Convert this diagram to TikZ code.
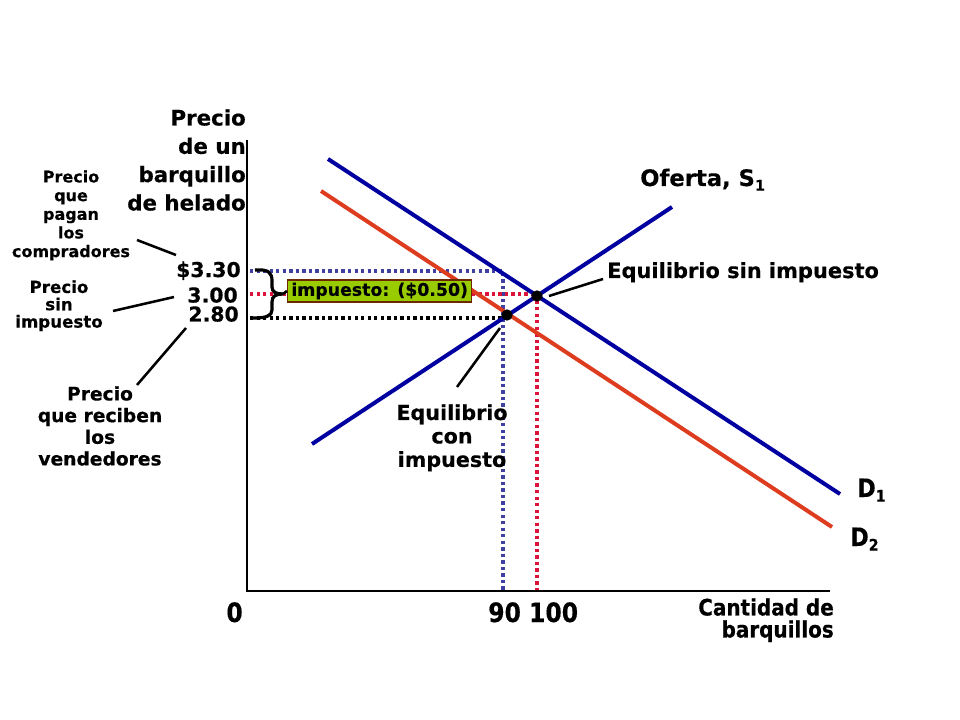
\documentclass[tikz,border=0pt]{standalone}
\usepackage{fontspec}
\setmainfont{DejaVu Sans}[BoldFeatures={FakeBold=0.4}]
\newfontfamily\condf{DejaVu Sans}[FakeStretch=0.88, BoldFeatures={FakeBold=0.4}]
\definecolor{navy}{RGB}{0,0,160}
\definecolor{redline}{RGB}{222,60,30}
\definecolor{bluedot}{RGB}{64,64,160}
\definecolor{reddot}{RGB}{220,20,60}
\definecolor{taxgreen}{RGB}{153,204,0}
\definecolor{taxborder}{RGB}{110,40,0}
\begin{document}
\begin{tikzpicture}[x=0.75pt,y=-0.75pt,
  lbl/.style={inner sep=0pt, text=black},
  curve/.style={line width=3pt},
  dotline/.style={line width=2.5pt, dash pattern=on 2.5pt off 2.4pt},
  leader/.style={line width=1.9pt, black},
  eqdot/.style={fill=black, circle, inner sep=0pt, minimum size=8.5pt}]
\useasboundingbox (0,0) rectangle (960,720);

% coordinates
\coordinate (yaxtop) at (247,140);
\coordinate (origin) at (247,591);
\coordinate (xaxend) at (830,591);
\coordinate (sA) at (312,444);
\coordinate (sB) at (672,207);
\coordinate (dA) at (328,159);
\coordinate (dB) at (840,494);
\coordinate (eA) at (321,191);
\coordinate (eB) at (832,527);

% dotted guide lines
\coordinate (b1) at (250,271); \coordinate (b2) at (503,271); \coordinate (b3) at (503,590);
\coordinate (r1) at (250,294); \coordinate (r2) at (537,294); \coordinate (r3) at (537,590);
\coordinate (k1) at (250,318); \coordinate (k2) at (506,318);
\draw[dotline, bluedot] (b1) -- (b2) -- (b3);
\draw[dotline, reddot] (r1) -- (r2);
\draw[dotline, reddot] (r2) -- (r3);
\draw[dotline, black] (k1) -- (k2);

% axes
\draw[line width=1.1pt] (yaxtop) -- (origin) -- (xaxend);

% curves
\draw[curve, redline] (eA) -- (eB);
\draw[curve, navy] (dA) -- (dB);
\draw[curve, navy] (sA) -- (sB);

% equilibrium dots
\node[eqdot] (eq1) at (537,296) {};
\node[eqdot] (eq2) at (507,315) {};

% brace
\coordinate (brtip) at (283,294);
\draw[line width=2.4pt, black] (255,270) .. controls (269,269) and (272,273) .. (272,281)
  -- (272,287) .. controls (272,292) and (276,294) .. (brtip)
  .. controls (276,294) and (272,296) .. (272,302)
  -- (272,310) .. controls (272,316) and (266,318) .. (253,318);

% tax box
\node[lbl, anchor=west, fill=taxgreen, draw=taxborder, line width=0.9pt,
  inner xsep=2.8pt, minimum height=16.5pt,
  font=\fontsize{13}{15}\selectfont\bfseries] (tax) at (287,291) {impuesto: (\$0.50)};
\draw[line width=2pt] (brtip) -- (tax.west);

% axis labels
\node[lbl, anchor=north east, align=right, font=\fontsize{16}{21.25}\selectfont\bfseries]
  (ylab) at (246,109) {Precio\\de un\\barquillo\\de helado};
\node[lbl, anchor=north east, align=right, font=\condf\fontsize{17}{16.5}\selectfont\bfseries]
  (xlab) at (834,598) {Cantidad de\\barquillos};

% price labels
\node[lbl, anchor=base east, font=\fontsize{15.3}{18}\selectfont\bfseries] (p330) at (241,277) {\$3.30};
\node[lbl, anchor=base east, font=\fontsize{15.3}{18}\selectfont\bfseries] (p300) at (238,302.5) {3.00};
\node[lbl, anchor=base east, font=\fontsize{15.3}{18}\selectfont\bfseries] (p280) at (239,321.5) {2.80};

% quantity labels
\node[lbl, anchor=base east, font=\condf\fontsize{20}{22}\selectfont\bfseries] (q0) at (243,622) {0};
\node[lbl, anchor=base west, font=\condf\fontsize{20}{22}\selectfont\bfseries] (q90) at (488,622) {90 100};

% curve labels
\node[lbl, anchor=base west, font=\fontsize{17}{19}\selectfont\bfseries] (oferta) at (640,186)
  {Oferta, S\raisebox{-3.5pt}{\fontsize{11}{11}\selectfont 1}};
\node[lbl, anchor=base west, font=\condf\fontsize{19}{21}\selectfont\bfseries] (d1) at (857,497)
  {D\raisebox{-3.5pt}{\fontsize{12}{12}\selectfont 1}};
\node[lbl, anchor=base west, font=\condf\fontsize{19}{21}\selectfont\bfseries] (d2) at (850,546)
  {D\raisebox{-3.5pt}{\fontsize{12}{12}\selectfont 2}};

% side labels
\node[lbl, anchor=north, align=center, font=\fontsize{12}{14}\selectfont\bfseries]
  (compr) at (71,170) {Precio\\que\\pagan\\los\\compradores};
\node[lbl, anchor=north, align=center, font=\fontsize{12.5}{13}\selectfont\bfseries]
  (sinimp) at (59,280) {Precio\\sin\\impuesto};
\node[lbl, anchor=north, align=center, font=\fontsize{14}{16.25}\selectfont\bfseries]
  (vend) at (100,386) {Precio\\que reciben\\los\\vendedores};
\node[lbl, anchor=north, align=center, font=\fontsize{15.5}{17.6}\selectfont\bfseries]
  (eqcon) at (452,404) {Equilibrio\\con\\impuesto};
\node[lbl, anchor=base west, font=\fontsize{15.7}{18}\selectfont\bfseries]
  (eqsin) at (607,278) {Equilibrio sin impuesto};

% leader lines
\coordinate (l1a) at (137,240); \coordinate (l1b) at (176,255);
\coordinate (l2a) at (113,311); \coordinate (l2b) at (174,297);
\coordinate (l3a) at (137,385); \coordinate (l3b) at (186,328);
\coordinate (l4a) at (549,296); \coordinate (l4b) at (603,279);
\coordinate (l5a) at (457,387); \coordinate (l5b) at (500,328);
\draw[leader] (l1a) -- (l1b);
\draw[leader] (l2a) -- (l2b);
\draw[leader] (l3a) -- (l3b);
\draw[leader] (l4a) -- (l4b);
\draw[leader] (l5a) -- (l5b);
\end{tikzpicture}
\end{document}
